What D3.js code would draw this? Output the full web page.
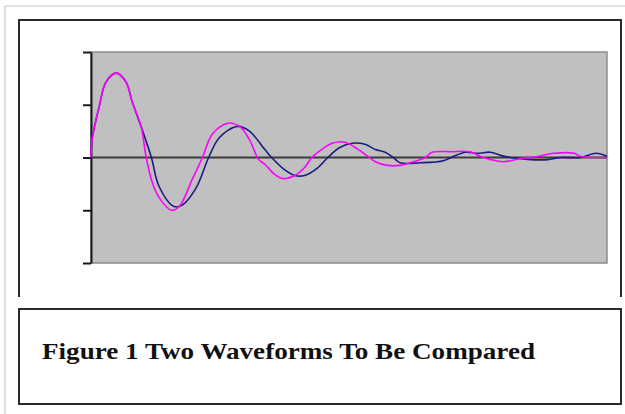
<!DOCTYPE html>
<html>
<head>
<meta charset="utf-8">
<script src="https://cdn.jsdelivr.net/npm/d3@7/dist/d3.min.js"></script>
<style>
  html, body { margin: 0; padding: 0; background: #fff; }
  svg { display: block; }
</style>
</head>
<body>
<svg id="fig" width="625" height="414"></svg>
<script>
// Waveform samples: time (0–100) and amplitude
const blueTime = [0, 0.2, 1.6, 2.9, 4.9, 6.8, 8.0, 9.7, 11.7, 13.2, 16.1, 17.7, 20.4, 22.8, 24.9, 28.4, 30.7, 33.7, 35.0, 37.5, 39.5, 41.4, 44.0, 45.9, 48.2, 50.6, 53.1, 55.1, 57.0, 58.6, 59.9, 63.8, 68.3, 70.2, 72.6, 74.9, 77.4, 79.4, 81.3, 85.2, 88.5, 91.1, 94.9, 97.9, 100];
const blueValue = [0, 0.34, 0.97, 1.43, 1.60, 1.43, 1.05, 0.59, 0, -0.55, -0.93, -0.90, -0.57, 0, 0.38, 0.59, 0.50, 0.15, 0, -0.23, -0.34, -0.34, -0.19, 0, 0.19, 0.27, 0.25, 0.15, 0.10, 0, -0.10, -0.10, -0.06, 0.02, 0.10, 0.08, 0.10, 0.04, 0, -0.04, -0.04, 0, 0, 0.08, 0.02];

const magentaTime = [0, 0.2, 1.6, 2.9, 4.9, 6.8, 8.0, 9.7, 10.7, 11.9, 13.2, 15.6, 17.1, 19.6, 21.6, 23.5, 26.5, 28.8, 30.7, 32.5, 33.7, 35.6, 37.2, 39.5, 41.4, 42.8, 44.7, 46.7, 49.2, 51.2, 53.1, 55.1, 57.4, 59.9, 62.5, 64.8, 66.1, 69.6, 73.5, 75.5, 77.4, 80.0, 83.3, 86.6, 89.7, 93.6, 94.9, 100];
const magentaValue = [0, 0.34, 0.97, 1.43, 1.60, 1.43, 1.05, 0.59, 0, -0.48, -0.76, -1.00, -0.93, -0.42, 0, 0.44, 0.65, 0.59, 0.34, -0.04, -0.13, -0.32, -0.40, -0.34, -0.19, 0, 0.15, 0.27, 0.29, 0.19, 0.06, -0.08, -0.15, -0.15, -0.08, 0, 0.10, 0.11, 0.11, 0.02, -0.04, -0.08, -0.02, 0.02, 0.08, 0.08, 0.02, 0];

const yTicks = [-2, -1, 0, 1, 2];
const captionText = "Figure 1 Two Waveforms To Be Compared";

const svg = d3.select("#fig");

// Page frame lines
svg.append("line").attr("x1", 5).attr("y1", 6).attr("x2", 625).attr("y2", 6)
  .attr("stroke", "#c8c8c8").attr("stroke-width", 1.2);
svg.append("line").attr("x1", 5).attr("y1", 6).attr("x2", 5).attr("y2", 414)
  .attr("stroke", "#c8c8c8").attr("stroke-width", 1.2);

// Chart frame (open at the bottom)
svg.append("path")
  .attr("d", "M19,297 L19,20 L621,20 L621,297")
  .attr("fill", "none").attr("stroke", "#2a2a2a").attr("stroke-width", 2);

// Plot area
const plot = { left: 91, right: 607, top: 52, bottom: 263 };
const x = d3.scaleLinear().domain([0, 100]).range([plot.left, plot.right]);
const y = d3.scaleLinear().domain([-2, 2]).range([plot.bottom, plot.top]);

svg.append("rect")
  .attr("x", plot.left).attr("y", plot.top)
  .attr("width", plot.right - plot.left).attr("height", plot.bottom - plot.top)
  .attr("fill", "#c0c0c0").attr("stroke", "#8c8c8c").attr("stroke-width", 1.5);

// Zero line (category axis)
svg.append("line")
  .attr("x1", x(0)).attr("x2", x(100))
  .attr("y1", y(0)).attr("y2", y(0))
  .attr("stroke", "#3a3a3a").attr("stroke-width", 2);

// Value axis without labels
const yAxis = svg.append("g")
  .attr("transform", `translate(${plot.left},0)`)
  .call(d3.axisLeft(y).tickValues(yTicks).tickFormat("").tickSize(8).tickSizeOuter(0));
yAxis.selectAll("path, line").attr("stroke", "#1a1a1a").attr("stroke-width", 2);

// Series
const line = d3.line()
  .x(d => x(d[0]))
  .y(d => y(d[1]))
  .curve(d3.curveCatmullRom.alpha(0.5));

const blue = d3.zip(blueTime, blueValue);
const magenta = d3.zip(magentaTime, magentaValue);

svg.append("path").datum(blue)
  .attr("d", line).attr("fill", "none")
  .attr("stroke", "#1c1c80").attr("stroke-width", 1.6);
svg.append("path").datum(magenta)
  .attr("d", line).attr("fill", "none")
  .attr("stroke", "#ff00ff").attr("stroke-width", 1.6);

// Caption box
svg.append("rect")
  .attr("x", 19).attr("y", 309).attr("width", 602).attr("height", 95)
  .attr("fill", "#fff").attr("stroke", "#2a2a2a").attr("stroke-width", 2);

svg.append("text")
  .attr("x", 42).attr("y", 359)
  .attr("font-family", "'Liberation Serif', 'Times New Roman', serif")
  .attr("font-weight", "bold").attr("font-size", 24)
  .attr("textLength", 493).attr("lengthAdjust", "spacingAndGlyphs")
  .attr("fill", "#111")
  .text(captionText);
</script>
</body>
</html>
